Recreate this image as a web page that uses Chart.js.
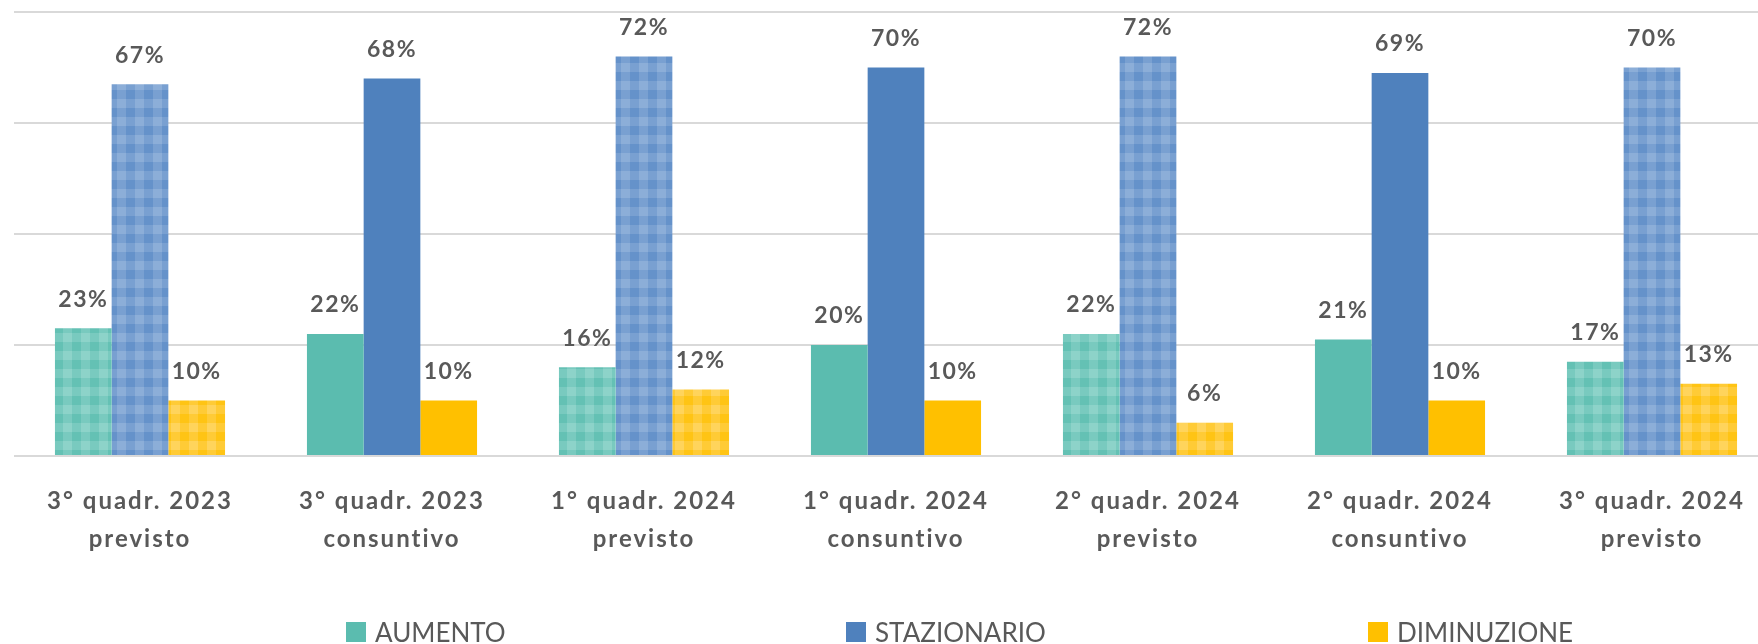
<!DOCTYPE html>
<html>
<head>
<meta charset="utf-8">
<script src="https://cdn.jsdelivr.net/npm/chart.js@4/dist/chart.umd.min.js"></script>
<style>
  html, body { margin: 0; padding: 0; background: #fff; overflow: hidden; }
  #wrap { position: relative; width: 1758px; height: 644px; overflow: hidden; }
  #box { position: absolute; left: 0; top: 0; width: 1920px; height: 644px; }
  .leg { position: absolute; top: 619px; font: 26px Lato, sans-serif; line-height: 26px; color: #595959; white-space: nowrap; }
  .leg i { position: absolute; left: 0; top: 3px; width: 20px; height: 20px; }
  .leg span { position: absolute; left: 29px; top: 0; }
</style>
</head>
<body>
<div id="wrap">
  <div id="box"><canvas id="chart"></canvas></div>
</div>
<script>
// periods (two lines each)
var periods = [
    ['3° quadr. 2023', 'previsto'],
    ['3° quadr. 2023', 'consuntivo'],
    ['1° quadr. 2024', 'previsto'],
    ['1° quadr. 2024', 'consuntivo'],
    ['2° quadr. 2024', 'previsto'],
    ['2° quadr. 2024', 'consuntivo'],
    ['3° quadr. 2024', 'previsto']
];
var seriesNames = ['AUMENTO', 'STAZIONARIO', 'DIMINUZIONE'];
var aumento     = [23, 22, 16, 20, 22, 21, 17];
var stazionario = [67, 68, 72, 70, 72, 69, 70];
var diminuzione = [10, 10, 12, 10, 6, 10, 13];
var yTicks = [0, 20, 40, 60, 80];

var solid = ['#5BBCAF', '#4F81BD', '#FFC000'];
// dark / mid / light squares of the checked fill used for "previsto"
var checks = [
    ['#64C1B4', '#79CABF', '#8DD3C9'],
    ['#6592CA', '#79A0D1', '#8CAED8'],
    ['#FFC414', '#FFCB36', '#FFD45C']
];

function makePattern(c) {
    var t = document.createElement('canvas');
    t.width = 18; t.height = 18;
    var g = t.getContext('2d');
    g.fillStyle = c[2]; g.fillRect(0, 0, 18, 18);
    g.fillStyle = c[1]; g.fillRect(9, 0, 9, 9); g.fillRect(0, 9, 9, 9);
    g.fillStyle = c[0]; g.fillRect(0, 0, 9, 9);
    return g.createPattern(t, 'repeat');
}

var ctx = document.getElementById('chart').getContext('2d');
var patterns = checks.map(makePattern);

function fillFor(k) {
    return function(c) {
        return periods[c.dataIndex][1] === 'previsto' ? patterns[k] : solid[k];
    };
}

var textColor = '#595959';

var valueLabels = {
    id: 'valueLabels',
    beforeDraw: function(chart) {
        chart.ctx.letterSpacing = '2px';
    },
    afterDatasetsDraw: function(chart) {
        var c = chart.ctx;
        c.save();
        c.letterSpacing = '1.5px';
        c.font = 'bold 23px Lato';
        c.fillStyle = textColor;
        c.textAlign = 'center';
        c.textBaseline = 'middle';
        chart.data.datasets.forEach(function(ds, i) {
            chart.getDatasetMeta(i).data.forEach(function(bar, j) {
                c.fillText(ds.data[j] + '%', bar.x, bar.y - 29);
            });
        });
        c.restore();
    }
};

var chart = new Chart(ctx, {
    type: 'bar',
    data: {
        labels: periods,
        datasets: [
            { label: seriesNames[0], data: aumento, backgroundColor: fillFor(0) },
            { label: seriesNames[1], data: stazionario, backgroundColor: fillFor(1) },
            { label: seriesNames[2], data: diminuzione, backgroundColor: fillFor(2) }
        ]
    },
    options: {
        responsive: true,
        maintainAspectRatio: false,
        animation: false,
        categoryPercentage: 0.675,
        barPercentage: 1,
        layout: { padding: { top: 12, left: 0, right: 0, bottom: 0 } },
        plugins: {
            legend: { display: false },
            tooltip: { enabled: false }
        },
        scales: {
            x: {
                grid: { display: false, drawTicks: false },
                border: { display: false },
                ticks: {
                    color: textColor,
                    font: { family: 'Lato', size: 24, weight: 'bold', lineHeight: 1.55 },
                    padding: 27,
                    maxRotation: 0,
                    autoSkip: false
                },
                afterFit: function(s) { s.height = 188; }
            },
            y: {
                min: yTicks[0],
                max: yTicks[yTicks.length - 1],
                afterBuildTicks: function(s) { s.ticks = yTicks.map(function(v) { return { value: v }; }); },
                ticks: { display: false },
                grid: { color: '#D9D9D9', lineWidth: 2, drawTicks: false },
                border: { display: false },
                afterFit: function(s) { s.width = 14; }
            },
            y2: {
                position: 'right',
                ticks: { display: false },
                grid: { display: false, drawTicks: false },
                border: { display: false },
                afterFit: function(s) { s.width = 142; }
            }
        }
    },
    plugins: [valueLabels]
});

// legend
var legendLeft = [346, 846, 1368];
var wrap = document.getElementById('wrap');
seriesNames.forEach(function(name, i) {
    var d = document.createElement('div');
    d.className = 'leg';
    d.style.left = legendLeft[i] + 'px';
    d.innerHTML = '<i style="background:' + solid[i] + '"></i><span>' + name + '</span>';
    wrap.appendChild(d);
});
</script>
</body>
</html>
